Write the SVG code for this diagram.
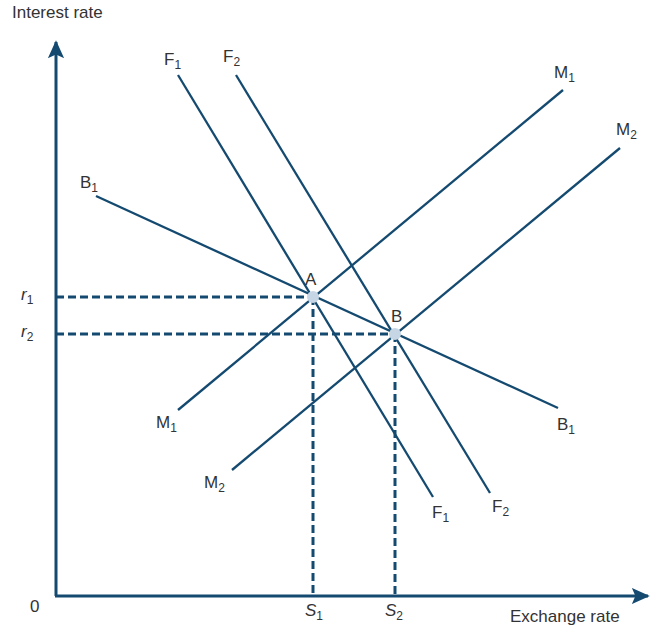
<svg xmlns="http://www.w3.org/2000/svg" width="652" height="630" viewBox="0 0 652 630">
<style>
.t{font-family:"Liberation Sans",Arial,sans-serif;font-size:17px;fill:#333}
.s{font-size:12px}
.i{font-style:italic}
.ln{stroke:#154a70;stroke-width:2.3;fill:none}
.ax{stroke:#154a70;stroke-width:3;fill:none}
.d{stroke:#154a70;stroke-width:3;stroke-dasharray:8 4;fill:none}
.pt{fill:#c6d6e4}
</style>
<defs>
<marker id="ah" viewBox="0 0 10 10" refX="9" refY="5" markerWidth="6" markerHeight="6" orient="auto" markerUnits="strokeWidth">
<path d="M0,0.5 L10,5 L0,9.5 L2,5 z" fill="#154a70"/>
</marker>
</defs>
<g id="axes">
<line class="ax" x1="56" y1="596" x2="56" y2="42" marker-end="url(#ah)"/>
<line class="ax" x1="55" y1="596" x2="648" y2="596" marker-end="url(#ah)"/>
<text class="t" x="12" y="18">Interest rate</text>
<text class="t" x="510" y="622">Exchange rate</text>
<text class="t" x="30" y="612">0</text>
</g>
<g id="connectors">
<line class="d" x1="56" y1="297" x2="313" y2="297"/>
<line class="d" x1="56" y1="334" x2="395" y2="334"/>
<line class="d" x1="313" y1="297" x2="313" y2="596"/>
<line class="d" x1="395" y1="334" x2="395" y2="596"/>
<line class="ln" x1="178" y1="75" x2="433" y2="497"/>
<line class="ln" x1="236" y1="75" x2="490" y2="493"/>
<line class="ln" x1="178" y1="410" x2="563" y2="90"/>
<line class="ln" x1="232" y1="470" x2="620" y2="148"/>
<line class="ln" x1="96" y1="196" x2="558" y2="408"/>
</g>
<g id="labels">
<text class="t" x="164" y="65">F<tspan class="s" dy="4">1</tspan></text>
<text class="t" x="223" y="62">F<tspan class="s" dy="4">2</tspan></text>
<text class="t" x="554" y="78">M<tspan class="s" dy="4">1</tspan></text>
<text class="t" x="616" y="135">M<tspan class="s" dy="4">2</tspan></text>
<text class="t" x="80" y="188">B<tspan class="s" dy="4">1</tspan></text>
<text class="t" x="156" y="428">M<tspan class="s" dy="4">1</tspan></text>
<text class="t" x="204" y="488">M<tspan class="s" dy="4">2</tspan></text>
<text class="t" x="432" y="518">F<tspan class="s" dy="4">1</tspan></text>
<text class="t" x="492" y="512">F<tspan class="s" dy="4">2</tspan></text>
<text class="t" x="557" y="430">B<tspan class="s" dy="4">1</tspan></text>
<text class="t i" x="21" y="300">r<tspan class="s" dy="4" font-style="normal">1</tspan></text>
<text class="t i" x="21" y="337">r<tspan class="s" dy="4" font-style="normal">2</tspan></text>
<text class="t i" x="305" y="616">S<tspan class="s" dy="4" font-style="normal">1</tspan></text>
<text class="t i" x="385" y="616">S<tspan class="s" dy="4" font-style="normal">2</tspan></text>
</g>
<g id="A">
<circle class="pt" cx="313" cy="297" r="6"/>
<text class="t" x="305" y="285">A</text>
</g>
<g id="B">
<circle class="pt" cx="395" cy="334" r="6"/>
<text class="t" x="391" y="322">B</text>
</g>
</svg>
